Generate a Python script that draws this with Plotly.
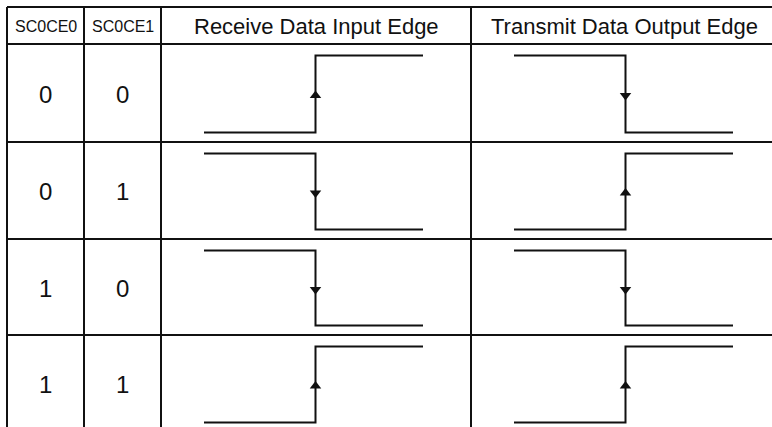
import plotly.graph_objects as go

# ---- data ----
header_labels = ["SC0CE0", "SC0CE1", "Receive Data Input Edge", "Transmit Data Output Edge"]
sc0ce0 = ["0", "0", "1", "1"]
sc0ce1 = ["0", "1", "0", "1"]
receive_edge = ["rise", "fall", "fall", "rise"]
transmit_edge = ["fall", "rise", "fall", "rise"]

# ---- layout geometry (pixels) ----
W, H = 772, 427
col_edges = [7, 84, 161, 471]            # left edges of columns (table continues to right edge)
row_edges = [7, 44, 142, 239, 335, 432]  # header + 4 rows
FONT = "Liberation Sans, Arial, sans-serif"

fig = go.Figure()
shapes = []
line_style = dict(color="#111111", width=2)
for y in row_edges[:-1]:
    shapes.append(dict(type="line", xref="x", yref="y", x0=col_edges[0], x1=W + 5,
                       y0=y, y1=y, line=line_style))
for x in col_edges:
    shapes.append(dict(type="line", xref="x", yref="y", x0=x, x1=x,
                       y0=row_edges[0], y1=H + 5, line=line_style))

annotations = []
col_right = col_edges[1:] + [W]
hdr_sizes = [16, 16, 22, 22]
hdr_dx = [0, 0, 0, 3]
for i, lab in enumerate(header_labels):
    cx = (col_edges[i] + col_right[i]) / 2 + hdr_dx[i]
    annotations.append(dict(x=cx, y=(row_edges[0] + row_edges[1]) / 2 + 1, text=lab,
                            showarrow=False, xref="x", yref="y",
                            font=dict(family=FONT, size=hdr_sizes[i], color="#111111")))

for r in range(4):
    cy = (row_edges[r + 1] + row_edges[r + 2]) / 2 + 1
    for c, vals in enumerate([sc0ce0, sc0ce1]):
        cx = (col_edges[c] + col_right[c]) / 2
        annotations.append(dict(x=cx, y=cy, text=vals[r], showarrow=False, xref="x", yref="y",
                                font=dict(family=FONT, size=24, color="#111111")))

def wave(col_left, top, bottom, kind):
    hi, lo = top + 11.5, bottom - 9.5
    x0, xm, x1 = col_left + 43, col_left + 154.5, col_left + 262
    if kind == "rise":
        xs, ys = [x0, xm, xm, x1], [lo, lo, hi, hi]
    else:
        xs, ys = [x0, xm, xm, x1], [hi, hi, lo, lo]
    return xs, ys, xm, (hi + lo) / 2 + 1.5

for r in range(4):
    top, bottom = row_edges[r + 1], row_edges[r + 2]
    for col_left, edges in [(col_edges[2], receive_edge), (col_edges[3], transmit_edge)]:
        xs, ys, xm, ym = wave(col_left, top, bottom, edges[r])
        fig.add_trace(go.Scatter(x=xs, y=ys, mode="lines",
                                 line=dict(color="#111111", width=2), hoverinfo="skip"))
        fig.add_trace(go.Scatter(x=[xm], y=[ym], mode="markers",
                                 marker=dict(symbol="triangle-up" if edges[r] == "rise" else "triangle-down",
                                             size=10, color="#111111", line=dict(width=0)),
                                 hoverinfo="skip"))

fig.update_layout(
    width=W, height=H, margin=dict(l=0, r=0, t=0, b=0),
    paper_bgcolor="white", plot_bgcolor="white", showlegend=False,
    xaxis=dict(range=[0, W], visible=False, fixedrange=True),
    yaxis=dict(range=[H, 0], visible=False, fixedrange=True),
    shapes=shapes, annotations=annotations,
)
fig.write_html("out.html", config={"displayModeBar": False},
               post_script="document.body.style.margin='0';document.body.style.padding='0';document.body.style.overflow='hidden';")
